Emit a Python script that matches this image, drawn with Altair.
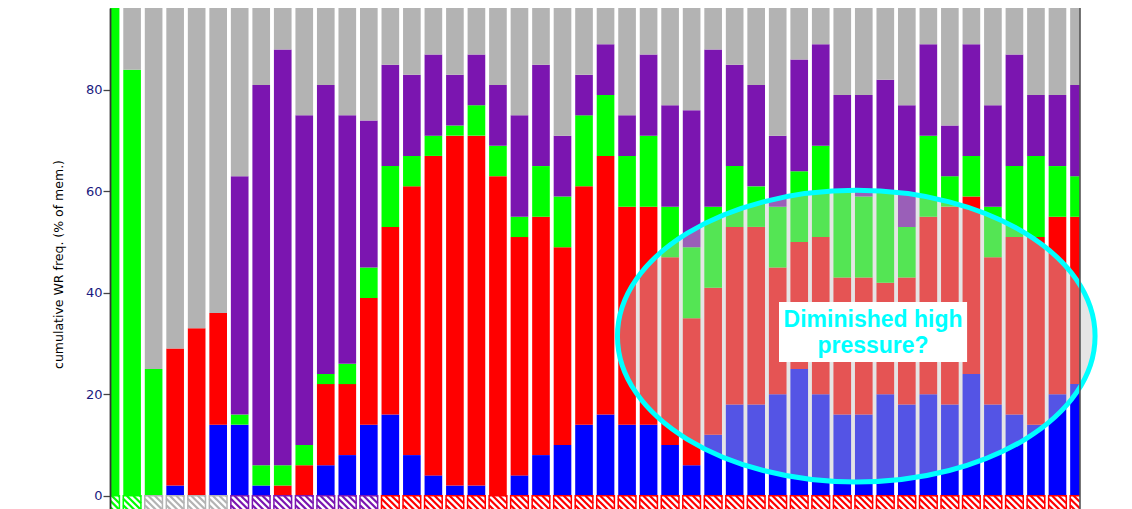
import altair as alt
import pandas as pd

# cumulative tops of each stacked segment (bottom -> top), % of members
blue_top   = [0, 0, 0, 2, 0, 14, 14, 2, 0, 0, 6, 8, 14, 16, 8, 4, 2, 2, 0, 4, 8, 10, 14, 16, 14, 14,
              10, 6, 12, 18, 18, 20, 25, 20, 16, 16, 20, 18, 20, 18, 24, 18, 16, 14, 20, 22]
red_top    = [0, 0, 0, 29, 33, 36, 14, 2, 2, 6, 22, 22, 39, 53, 61, 67, 71, 71, 63, 51, 55, 49, 61, 67, 57, 57,
              47, 35, 41, 53, 53, 45, 50, 51, 43, 43, 42, 43, 55, 57, 59, 47, 51, 51, 55, 55]
green_top  = [100, 84, 25, 29, 33, 36, 16, 6, 6, 10, 24, 26, 45, 65, 67, 71, 73, 77, 69, 55, 65, 59, 75, 79, 67, 71,
              57, 49, 57, 65, 61, 57, 64, 69, 60, 59, 60, 53, 71, 63, 67, 57, 65, 67, 65, 63]
purple_top = [100, 84, 25, 29, 33, 36, 63, 81, 88, 75, 81, 75, 74, 85, 83, 87, 83, 87, 81, 75, 85, 71, 83, 89, 75, 87,
              77, 76, 88, 85, 81, 71, 86, 89, 79, 79, 82, 77, 89, 73, 89, 77, 87, 79, 79, 81]
gray_top = 100
strip_cat = ["green"] * 2 + ["gray"] * 4 + ["purple"] * 7 + ["red"] * 33

seg_names = ["blue", "red", "green", "purple", "gray"]
seg_colors = ["#0000ff", "#ff0000", "#00ff00", "#7b15b0", "#b3b3b3"]

y_ticks = [0, 20, 40, 60, 80, 100]
y_title = "cumulative WR freq. (% of mem.)"

note_lines = ["Diminished high", "pressure?"]
note_x = [36.43, 36.43]
note_y = [33.33, 28.08]
box_x, box_x2, box_y, box_y2 = [32.06], [40.80], [38.20], [26.37]
ell_x, ell_y = [35.65], [31.45]

# ---- scales / geometry
X_DOM = [0.973, 46.047]
Y_DOM = [-2.63, 96.17]
W, H = 970, 501
HALF = 0.41
PX_X = W / (X_DOM[1] - X_DOM[0])
PX_Y = H / (Y_DOM[1] - Y_DOM[0])

rows = []
for k in range(len(blue_top)):
    i = k + 1
    tops = [blue_top[k], red_top[k], green_top[k], purple_top[k], gray_top]
    lo = 0
    for name, t in zip(seg_names, tops):
        if t > lo:
            rows.append(dict(xa=i - HALF, xb=i + HALF, lo=lo, hi=t, seg=name))
        lo = max(lo, t)
bars = pd.DataFrame(rows)

strip = pd.DataFrame(dict(xa=[i + 1 - HALF for i in range(len(strip_cat))],
                          xb=[i + 1 + HALF for i in range(len(strip_cat))],
                          lo=[0] * len(strip_cat), hi=[Y_DOM[0] - 3] * len(strip_cat),
                          cat=strip_cat))

hrows = []
cw = 2 * HALF * PX_X
HS = 16
for k, cat in enumerate(strip_cat):
    i = k + 1
    off = -HS
    while off < cw:
        t0 = max(0, -off)
        t1 = min(HS, cw - off)
        if t1 > t0:
            hrows.append(dict(x=i - HALF + (off + t0) / PX_X, y=-t0 / PX_Y,
                              x2=i - HALF + (off + t1) / PX_X, y2=-t1 / PX_Y, cat=cat))
        off += 6.5
hatch = pd.DataFrame(hrows)

xs = alt.Scale(domain=X_DOM, nice=False, zero=False)
ys = alt.Scale(domain=Y_DOM, nice=False, zero=False)
cs = alt.Scale(domain=seg_names, range=seg_colors)

yaxis = alt.Axis(values=y_ticks, title=y_title, grid=False, zindex=2,
                 labelColor="#1a1a80", labelFont="DejaVu Sans", labelFontSize=13,
                 labelPadding=1, tickSize=7, tickColor="#444444", tickWidth=1.3,
                 domainColor="#333333", domainWidth=1.8,
                 titleFont="DejaVu Sans", titleFontSize=12.5, titleFontWeight="normal",
                 titleColor="#000000", titleX=-48, titleY=256, titleBaseline="alphabetic")

bar_layer = alt.Chart(bars).mark_bar(clip=True).encode(
    x=alt.X("xa:Q", scale=xs, axis=None),
    x2="xb:Q",
    y=alt.Y("lo:Q", scale=ys, axis=yaxis),
    y2="hi:Q",
    color=alt.Color("seg:N", scale=cs, legend=None),
)

strip_layer = alt.Chart(strip).mark_rect(clip=True, fill="white", strokeWidth=1.5).encode(
    x=alt.X("xa:Q", scale=xs), x2="xb:Q",
    y=alt.Y("lo:Q", scale=ys), y2="hi:Q",
    stroke=alt.Stroke("cat:N", scale=cs, legend=None),
)

hatch_layer = alt.Chart(hatch).mark_rule(clip=True, strokeWidth=2.2).encode(
    x=alt.X("x:Q", scale=xs), x2="x2:Q",
    y=alt.Y("y:Q", scale=ys), y2="y2:Q",
    color=alt.Color("cat:N", scale=cs, legend=None),
)

ell_path = ("M -1 0 C -1 -0.3372 -0.5523 -0.6106 0 -0.6106 "
            "C 0.5523 -0.6106 1 -0.3372 1 0 "
            "C 1 0.3372 0.5523 0.6106 0 0.6106 "
            "C -0.5523 0.6106 -1 0.3372 -1 0 Z")
ell_layer = alt.Chart(pd.DataFrame(dict(x=ell_x, y=ell_y))).mark_point(
    shape=ell_path, size=228100, filled=True, fill="#c2c2c2", fillOpacity=0.43,
    stroke="#00ffff", strokeWidth=5, strokeOpacity=1, opacity=1, clip=False,
).encode(x=alt.X("x:Q", scale=xs), y=alt.Y("y:Q", scale=ys))

box_layer = alt.Chart(pd.DataFrame(dict(x=box_x, x2=box_x2, y=box_y, y2=box_y2))).mark_rect(
    fill="white", clip=False
).encode(x=alt.X("x:Q", scale=xs), x2="x2:Q", y=alt.Y("y:Q", scale=ys), y2="y2:Q")

text_layer = alt.Chart(pd.DataFrame(dict(x=note_x, y=note_y, t=note_lines))).mark_text(
    font="Liberation Sans", fontSize=23, fontWeight="bold", color="#00ffff",
    align="center", baseline="alphabetic", clip=False,
).encode(x=alt.X("x:Q", scale=xs), y=alt.Y("y:Q", scale=ys), text="t:N")

right_rule = alt.Chart(pd.DataFrame(dict(v=[0]))).mark_rule(
    color="#555555", strokeWidth=1.6
).encode(x=alt.value(W), y=alt.value(0), y2=alt.value(H))

chart = alt.layer(
    bar_layer, strip_layer, hatch_layer, ell_layer, box_layer, text_layer, right_rule
).properties(
    width=W, height=H,
    autosize=alt.AutoSizeParams(type="none"),
    padding={"left": 102, "top": 0, "right": 40, "bottom": 0},
).configure_view(stroke=None)

chart.save("out.html", embed_options={"renderer": "svg", "actions": False})
